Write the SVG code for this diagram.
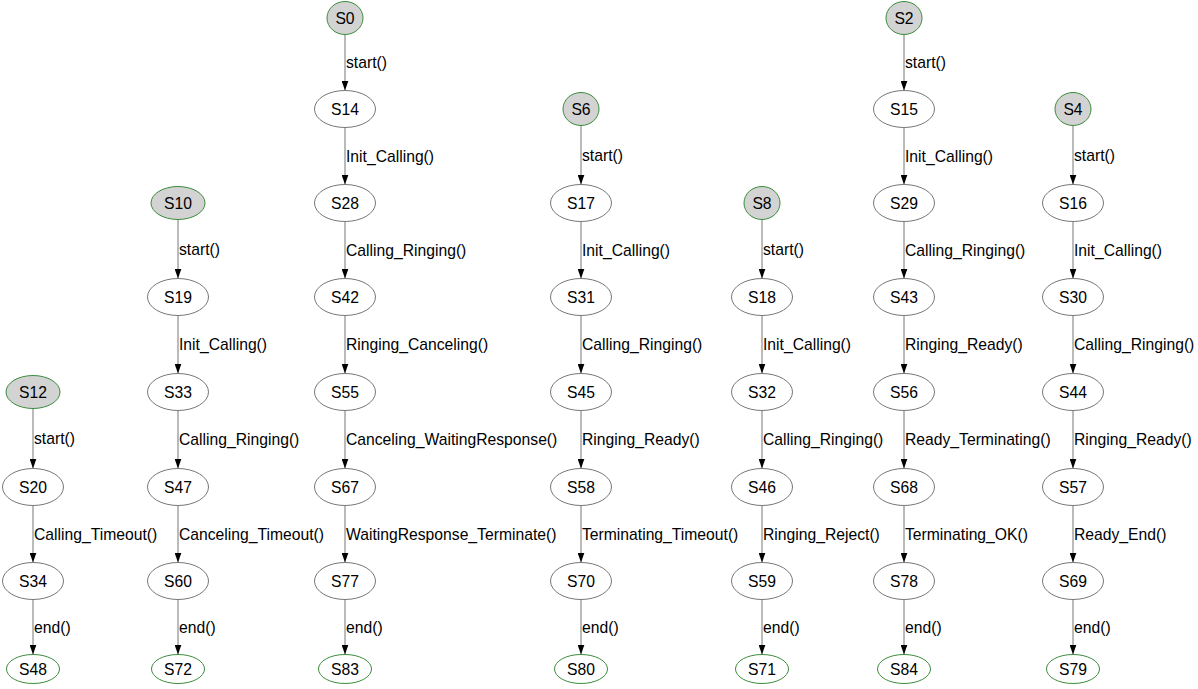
<svg xmlns="http://www.w3.org/2000/svg" width="1198" height="689" viewBox="0 0 1198 689">
<style>
text{font-family:"Liberation Sans",Arial,sans-serif;font-size:15.7px;fill:#000}
.n text{text-anchor:middle}
.reg ellipse{fill:#fff;stroke:#777;stroke-width:1}
.st ellipse{fill:#d3d3d3;stroke:#3c8c3c;stroke-width:1}
.en ellipse{fill:#fff;stroke:#3c8c3c;stroke-width:1}
.e line{stroke:#777;stroke-width:1;marker-end:url(#ah)}
</style>
<defs>
<marker id="ah" markerUnits="userSpaceOnUse" markerWidth="10" markerHeight="7" refX="10" refY="3.5" orient="auto"><path d="M0,0 L10,3.5 L0,7 z" fill="#000"/></marker>
</defs>
<rect width="1198" height="689" fill="#fff"/>
<g id="connectors" class="e">
<line x1="33" y1="408.5" x2="33" y2="468.5"/><text x="34" y="444">start()</text>
<line x1="33" y1="505.5" x2="33" y2="562.5"/><text x="34" y="539.5">Calling_Timeout()</text>
<line x1="33" y1="599.5" x2="33" y2="654.5"/><text x="34" y="632.5">end()</text>
<line x1="178" y1="219.5" x2="178" y2="278.5"/><text x="179" y="254.5">start()</text>
<line x1="178" y1="315.5" x2="178" y2="373.5"/><text x="179" y="350">Init_Calling()</text>
<line x1="178" y1="410.5" x2="178" y2="468.5"/><text x="179" y="445">Calling_Ringing()</text>
<line x1="178" y1="505.5" x2="178" y2="562.5"/><text x="179" y="539.5">Canceling_Timeout()</text>
<line x1="178" y1="599.5" x2="178" y2="654.5"/><text x="179" y="632.5">end()</text>
<line x1="345" y1="34.5" x2="345" y2="90.5"/><text x="346" y="67.5">start()</text>
<line x1="345" y1="127.5" x2="345" y2="184.5"/><text x="346" y="161.5">Init_Calling()</text>
<line x1="345" y1="221.5" x2="345" y2="278.5"/><text x="346" y="255.5">Calling_Ringing()</text>
<line x1="345" y1="315.5" x2="345" y2="373.5"/><text x="346" y="350">Ringing_Canceling()</text>
<line x1="345" y1="410.5" x2="345" y2="468.5"/><text x="346" y="445">Canceling_WaitingResponse()</text>
<line x1="345" y1="505.5" x2="345" y2="562.5"/><text x="346" y="539.5">WaitingResponse_Terminate()</text>
<line x1="345" y1="599.5" x2="345" y2="654.5"/><text x="346" y="632.5">end()</text>
<line x1="581" y1="125.5" x2="581" y2="184.5"/><text x="582" y="160.5">start()</text>
<line x1="581" y1="221.5" x2="581" y2="278.5"/><text x="582" y="255.5">Init_Calling()</text>
<line x1="581" y1="315.5" x2="581" y2="373.5"/><text x="582" y="350">Calling_Ringing()</text>
<line x1="581" y1="410.5" x2="581" y2="468.5"/><text x="582" y="445">Ringing_Ready()</text>
<line x1="581" y1="505.5" x2="581" y2="562.5"/><text x="582" y="539.5">Terminating_Timeout()</text>
<line x1="581" y1="599.5" x2="581" y2="654.5"/><text x="582" y="632.5">end()</text>
<line x1="762" y1="219.5" x2="762" y2="278.5"/><text x="763" y="254.5">start()</text>
<line x1="762" y1="315.5" x2="762" y2="373.5"/><text x="763" y="350">Init_Calling()</text>
<line x1="762" y1="410.5" x2="762" y2="468.5"/><text x="763" y="445">Calling_Ringing()</text>
<line x1="762" y1="505.5" x2="762" y2="562.5"/><text x="763" y="539.5">Ringing_Reject()</text>
<line x1="762" y1="599.5" x2="762" y2="654.5"/><text x="763" y="632.5">end()</text>
<line x1="904" y1="34.5" x2="904" y2="90.5"/><text x="905" y="67.5">start()</text>
<line x1="904" y1="127.5" x2="904" y2="184.5"/><text x="905" y="161.5">Init_Calling()</text>
<line x1="904" y1="221.5" x2="904" y2="278.5"/><text x="905" y="255.5">Calling_Ringing()</text>
<line x1="904" y1="315.5" x2="904" y2="373.5"/><text x="905" y="350">Ringing_Ready()</text>
<line x1="904" y1="410.5" x2="904" y2="468.5"/><text x="905" y="445">Ready_Terminating()</text>
<line x1="904" y1="505.5" x2="904" y2="562.5"/><text x="905" y="539.5">Terminating_OK()</text>
<line x1="904" y1="599.5" x2="904" y2="654.5"/><text x="905" y="632.5">end()</text>
<line x1="1073" y1="125.5" x2="1073" y2="184.5"/><text x="1074" y="160.5">start()</text>
<line x1="1073" y1="221.5" x2="1073" y2="278.5"/><text x="1074" y="255.5">Init_Calling()</text>
<line x1="1073" y1="315.5" x2="1073" y2="373.5"/><text x="1074" y="350">Calling_Ringing()</text>
<line x1="1073" y1="410.5" x2="1073" y2="468.5"/><text x="1074" y="445">Ringing_Ready()</text>
<line x1="1073" y1="505.5" x2="1073" y2="562.5"/><text x="1074" y="539.5">Ready_End()</text>
<line x1="1073" y1="599.5" x2="1073" y2="654.5"/><text x="1074" y="632.5">end()</text>
</g>
<g id="S12" class="n st"><ellipse cx="33" cy="392" rx="27" ry="16.5"/><text x="33" y="397.5">S12</text></g>
<g id="S20" class="n reg"><ellipse cx="33" cy="487" rx="30.5" ry="18.5"/><text x="33" y="492.5">S20</text></g>
<g id="S34" class="n reg"><ellipse cx="33" cy="581" rx="30.5" ry="18.5"/><text x="33" y="586.5">S34</text></g>
<g id="S48" class="n en"><ellipse cx="33" cy="669" rx="26.5" ry="14.5"/><text x="33" y="674.5">S48</text></g>
<g id="S10" class="n st"><ellipse cx="178" cy="203" rx="27" ry="16.5"/><text x="178" y="208.5">S10</text></g>
<g id="S19" class="n reg"><ellipse cx="178" cy="297" rx="30.5" ry="18.5"/><text x="178" y="302.5">S19</text></g>
<g id="S33" class="n reg"><ellipse cx="178" cy="392" rx="30.5" ry="18.5"/><text x="178" y="397.5">S33</text></g>
<g id="S47" class="n reg"><ellipse cx="178" cy="487" rx="30.5" ry="18.5"/><text x="178" y="492.5">S47</text></g>
<g id="S60" class="n reg"><ellipse cx="178" cy="581" rx="30.5" ry="18.5"/><text x="178" y="586.5">S60</text></g>
<g id="S72" class="n en"><ellipse cx="178" cy="669" rx="26.5" ry="14.5"/><text x="178" y="674.5">S72</text></g>
<g id="S0" class="n st"><ellipse cx="345" cy="18" rx="18" ry="16.5"/><text x="345" y="23.5">S0</text></g>
<g id="S14" class="n reg"><ellipse cx="345" cy="109" rx="30.5" ry="18.5"/><text x="345" y="114.5">S14</text></g>
<g id="S28" class="n reg"><ellipse cx="345" cy="203" rx="30.5" ry="18.5"/><text x="345" y="208.5">S28</text></g>
<g id="S42" class="n reg"><ellipse cx="345" cy="297" rx="30.5" ry="18.5"/><text x="345" y="302.5">S42</text></g>
<g id="S55" class="n reg"><ellipse cx="345" cy="392" rx="30.5" ry="18.5"/><text x="345" y="397.5">S55</text></g>
<g id="S67" class="n reg"><ellipse cx="345" cy="487" rx="30.5" ry="18.5"/><text x="345" y="492.5">S67</text></g>
<g id="S77" class="n reg"><ellipse cx="345" cy="581" rx="30.5" ry="18.5"/><text x="345" y="586.5">S77</text></g>
<g id="S83" class="n en"><ellipse cx="345" cy="669" rx="26.5" ry="14.5"/><text x="345" y="674.5">S83</text></g>
<g id="S6" class="n st"><ellipse cx="581" cy="109" rx="18" ry="16.5"/><text x="581" y="114.5">S6</text></g>
<g id="S17" class="n reg"><ellipse cx="581" cy="203" rx="30.5" ry="18.5"/><text x="581" y="208.5">S17</text></g>
<g id="S31" class="n reg"><ellipse cx="581" cy="297" rx="30.5" ry="18.5"/><text x="581" y="302.5">S31</text></g>
<g id="S45" class="n reg"><ellipse cx="581" cy="392" rx="30.5" ry="18.5"/><text x="581" y="397.5">S45</text></g>
<g id="S58" class="n reg"><ellipse cx="581" cy="487" rx="30.5" ry="18.5"/><text x="581" y="492.5">S58</text></g>
<g id="S70" class="n reg"><ellipse cx="581" cy="581" rx="30.5" ry="18.5"/><text x="581" y="586.5">S70</text></g>
<g id="S80" class="n en"><ellipse cx="581" cy="669" rx="26.5" ry="14.5"/><text x="581" y="674.5">S80</text></g>
<g id="S8" class="n st"><ellipse cx="762" cy="203" rx="18" ry="16.5"/><text x="762" y="208.5">S8</text></g>
<g id="S18" class="n reg"><ellipse cx="762" cy="297" rx="30.5" ry="18.5"/><text x="762" y="302.5">S18</text></g>
<g id="S32" class="n reg"><ellipse cx="762" cy="392" rx="30.5" ry="18.5"/><text x="762" y="397.5">S32</text></g>
<g id="S46" class="n reg"><ellipse cx="762" cy="487" rx="30.5" ry="18.5"/><text x="762" y="492.5">S46</text></g>
<g id="S59" class="n reg"><ellipse cx="762" cy="581" rx="30.5" ry="18.5"/><text x="762" y="586.5">S59</text></g>
<g id="S71" class="n en"><ellipse cx="762" cy="669" rx="26.5" ry="14.5"/><text x="762" y="674.5">S71</text></g>
<g id="S2" class="n st"><ellipse cx="904" cy="18" rx="18" ry="16.5"/><text x="904" y="23.5">S2</text></g>
<g id="S15" class="n reg"><ellipse cx="904" cy="109" rx="30.5" ry="18.5"/><text x="904" y="114.5">S15</text></g>
<g id="S29" class="n reg"><ellipse cx="904" cy="203" rx="30.5" ry="18.5"/><text x="904" y="208.5">S29</text></g>
<g id="S43" class="n reg"><ellipse cx="904" cy="297" rx="30.5" ry="18.5"/><text x="904" y="302.5">S43</text></g>
<g id="S56" class="n reg"><ellipse cx="904" cy="392" rx="30.5" ry="18.5"/><text x="904" y="397.5">S56</text></g>
<g id="S68" class="n reg"><ellipse cx="904" cy="487" rx="30.5" ry="18.5"/><text x="904" y="492.5">S68</text></g>
<g id="S78" class="n reg"><ellipse cx="904" cy="581" rx="30.5" ry="18.5"/><text x="904" y="586.5">S78</text></g>
<g id="S84" class="n en"><ellipse cx="904" cy="669" rx="26.5" ry="14.5"/><text x="904" y="674.5">S84</text></g>
<g id="S4" class="n st"><ellipse cx="1073" cy="109" rx="18" ry="16.5"/><text x="1073" y="114.5">S4</text></g>
<g id="S16" class="n reg"><ellipse cx="1073" cy="203" rx="30.5" ry="18.5"/><text x="1073" y="208.5">S16</text></g>
<g id="S30" class="n reg"><ellipse cx="1073" cy="297" rx="30.5" ry="18.5"/><text x="1073" y="302.5">S30</text></g>
<g id="S44" class="n reg"><ellipse cx="1073" cy="392" rx="30.5" ry="18.5"/><text x="1073" y="397.5">S44</text></g>
<g id="S57" class="n reg"><ellipse cx="1073" cy="487" rx="30.5" ry="18.5"/><text x="1073" y="492.5">S57</text></g>
<g id="S69" class="n reg"><ellipse cx="1073" cy="581" rx="30.5" ry="18.5"/><text x="1073" y="586.5">S69</text></g>
<g id="S79" class="n en"><ellipse cx="1073" cy="669" rx="26.5" ry="14.5"/><text x="1073" y="674.5">S79</text></g>
</svg>
